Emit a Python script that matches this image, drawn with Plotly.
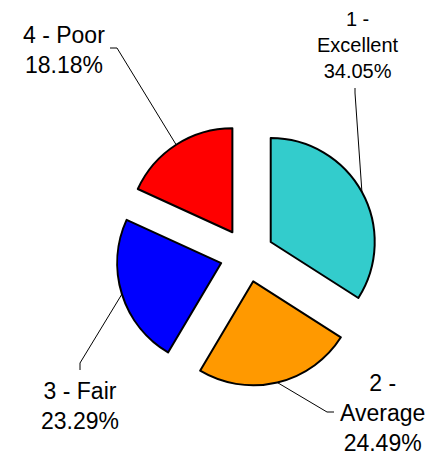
import math
import plotly.graph_objects as go

# ---- data ----
categories = ["1 - Excellent", "2 - Average", "3 - Fair", "4 - Poor"]
label_lines = ["1 -<br>Excellent", "2 -<br>Average", "3 - Fair", "4 - Poor"]
values = [34.05, 24.49, 23.29, 18.18]
colors = ["#33CCCC", "#FF9900", "#0000FF", "#FF0000"]

# ---- layout constants (window pixels) ----
OFF = 8                     # page body margin
W, H = 444 - OFF, 458 - OFF # figure size
CX, CY = 247, 255           # pie centre (window px from top-left)
R = 104                     # slice radius
PULL = 0.26                 # pull fraction
SIDE = 2 * R * (1 + PULL)   # domain size that gives radius R

# label text centres, font sizes and leader-line start/elbow points (px)
label_pos = [(358, 45), (382, 413), (80, 406), (64, 50)]
label_size = [20, 23, 23, 23]
leader_start = [(355, 88), (334, 412), (80, 370), (110, 48)]
leader_elbow = [(355, 93), (327, 412), (80, 363), (117, 48)]


def px(x):
    return (x - OFF) / W


def py(y):
    return 1 - (y - OFF) / H


fig = go.Figure(go.Pie(
    labels=categories,
    values=values,
    sort=False,
    direction="clockwise",
    rotation=0,
    pull=[PULL] * len(values),
    textinfo="none",
    hoverinfo="label+percent",
    marker=dict(colors=colors, line=dict(color="black", width=2)),
    showlegend=False,
    domain=dict(
        x=[px(CX - SIDE / 2), px(CX + SIDE / 2)],
        y=[py(CY + SIDE / 2 + 20), py(CY - SIDE / 2 - 20)],
    ),
))

total = sum(values)
cum = 0.0
annotations = []
shapes = []
for i, v in enumerate(values):
    mid = (cum + v / 2) / total * 2 * math.pi
    cum += v
    dist = R * (1 + PULL)
    ax = CX + dist * math.sin(mid)
    ay = CY - dist * math.cos(mid)
    sx, sy = leader_start[i]
    ex, ey = leader_elbow[i]
    path = (f"M {px(sx)},{py(sy)} L {px(ex)},{py(ey)} "
            f"L {px(ax)},{py(ay)}")
    shapes.append(dict(type="path", xref="paper", yref="paper", path=path,
                       line=dict(color="black", width=1)))
    tx, ty = label_pos[i]
    annotations.append(dict(
        x=px(tx), y=py(ty), xref="paper", yref="paper",
        xanchor="center", yanchor="middle", align="center",
        text=f"{label_lines[i]}<br>{v:.2f}%",
        showarrow=False,
        font=dict(family="Liberation Sans, Arial", size=label_size[i],
                  color="black"),
    ))

fig.update_layout(
    width=W, height=H,
    margin=dict(l=0, r=0, t=0, b=0),
    paper_bgcolor="white",
    plot_bgcolor="white",
    annotations=annotations,
    shapes=shapes,
)
fig.write_html("out.html")
